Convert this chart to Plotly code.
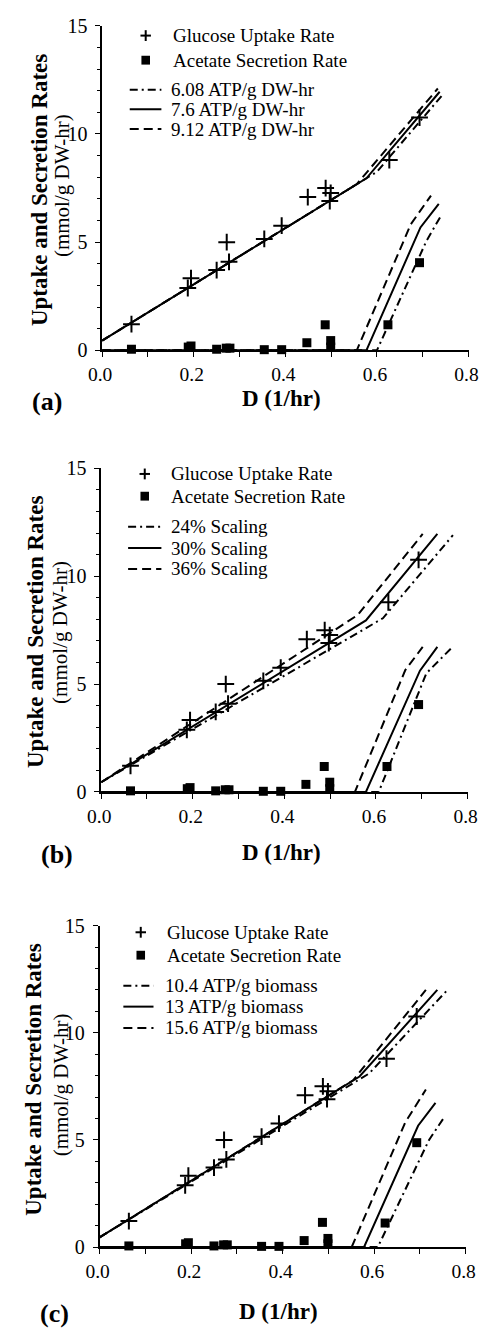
import plotly.graph_objects as go

W, H = 489, 1336
FONT = "Liberation Serif"

# ---------------- experimental data (shared) ----------------
glc_D = [0.064, 0.187, 0.194, 0.250, 0.272, 0.277, 0.354, 0.392, 0.449, 0.488, 0.499, 0.497, 0.627, 0.693]
glc_rate = [1.21, 2.88, 3.33, 3.71, 5.00, 4.09, 5.15, 5.76, 7.08, 7.50, 7.27, 6.90, 8.79, 10.76]

ace_D = [0.064, 0.188, 0.194, 0.250, 0.271, 0.279, 0.354, 0.392, 0.447, 0.487, 0.499, 0.499, 0.624, 0.693]
ace_rate_ab = [0.05, 0.15, 0.20, 0.05, 0.10, 0.10, 0.03, 0.03, 0.35, 1.18, 0.45, 0.15, 1.18, 4.05]
ace_rate_c = [0.05, 0.15, 0.20, 0.05, 0.10, 0.10, 0.03, 0.03, 0.30, 1.15, 0.40, 0.15, 1.12, 4.87]

# ---------------- model curves ----------------
# panel (a): maintenance ATP
a_labels = ["6.08 ATP/g DW-hr", "7.6 ATP/g DW-hr", "9.12 ATP/g DW-hr"]
a_glc_D = [[0, 0.600, 0.745], [0, 0.577, 0.737], [0, 0.556, 0.733]]
a_glc_y = [[0.45, 8.25, 11.85], [0.45, 7.95, 11.95], [0.45, 7.68, 12.10]]
a_ace_D = [[0, 0.600, 0.708, 0.742], [0, 0.577, 0.695, 0.735], [0, 0.556, 0.674, 0.718]]
a_ace_y = [[0, 0, 5.05, 6.30], [0, 0, 5.68, 6.77], [0, 0, 5.83, 7.15]]

# panel (b): scaling
b_labels = ["24% Scaling", "30% Scaling", "36% Scaling"]
b_glc_D = [[0, 0.615, 0.768], [0, 0.578, 0.734], [0, 0.560, 0.702]]
b_glc_y = [[0.45, 8.05, 11.90], [0.45, 7.95, 11.96], [0.45, 8.20, 11.96]]
b_ace_D = [[0, 0.606, 0.710, 0.767], [0, 0.578, 0.696, 0.734], [0, 0.554, 0.664, 0.702]]
b_ace_y = [[0, 0, 5.50, 6.72], [0, 0, 5.62, 6.72], [0, 0, 5.65, 6.72]]

# panel (c): growth-associated ATP
c_labels = ["10.4 ATP/g biomass", "13 ATP/g biomass", "15.6 ATP/g biomass"]
c_glc_D = [[0, 0.589, 0.758], [0, 0.568, 0.738], [0, 0.554, 0.713]]
c_glc_y = [[0.45, 8.10, 11.95], [0.45, 7.96, 12.00], [0.45, 7.78, 12.00]]
c_ace_D = [[0, 0.608, 0.720, 0.755], [0, 0.578, 0.696, 0.734], [0, 0.551, 0.668, 0.713]]
c_ace_y = [[0, 0, 5.00, 6.12], [0, 0, 5.66, 6.73], [0, 0, 5.82, 7.35]]

x_tickvals = [0, 0.1, 0.2, 0.3, 0.4, 0.5, 0.6, 0.7, 0.8]
x_ticktext = ["0.0", "", "0.2", "", "0.4", "", "0.6", "", "0.8"]
y_tickvals = [0, 5, 10, 15]
y_ticktext = ["0", "5", "10", "15"]

DASHES = ["8px,4px,2px,4px", "solid", "9px,5px"]

# ---------------- panel geometry (pixels) ----------------
panels = [
    dict(tag="(a)", labels=a_labels, gD=a_glc_D, gy=a_glc_y, aD=a_ace_D, ay=a_ace_y, ace=ace_rate_ab,
         x0=92.7, x1=478, ytop=15, ybot=345,
         ytitle=(26.7, 181.7), ysub=(50.5, 178), xtitle=(281.7, 393.5), tagpos=(34.2, 397.5),
         leg_marker_x=138.5, leg_text_x=165, leg_rows_m=[25, 50],
         leg_line=(121.7, 155), leg_ltext_x=163.3, leg_rows_l=[80, 100, 120]),
    dict(tag="(b)", labels=b_labels, gD=b_glc_D, gy=b_glc_y, aD=b_ace_D, ay=b_ace_y, ace=ace_rate_ab,
         x0=91.7, x1=477, ytop=465, ybot=794,
         ytitle=(22.5, 631), ysub=(49, 631.7), xtitle=(280.8, 856), tagpos=(45, 857.5),
         leg_marker_x=137.5, leg_text_x=163.3, leg_rows_m=[470.7, 493.3],
         leg_line=(120, 155), leg_ltext_x=163.3, leg_rows_l=[524.3, 546, 567.3]),
    dict(tag="(c)", labels=c_labels, gD=c_glc_D, gy=c_glc_y, aD=c_ace_D, ay=c_ace_y, ace=ace_rate_c,
         x0=90, x1=475, ytop=930, ybot=1256.7,
         ytitle=(21, 1086.7), ysub=(49, 1091.7), xtitle=(278.3, 1322), tagpos=(42.5, 1324),
         leg_marker_x=133.3, leg_text_x=159.3, leg_rows_m=[936.7, 960],
         leg_line=(115, 146.7), leg_ltext_x=156.7, leg_rows_l=[991, 1012.3, 1034]),
]


def px(x):
    return x / W


def py(y):
    return 1 - y / H


fig = go.Figure()
shapes = []
annotations = []

for i, p in enumerate(panels):
    n = "" if i == 0 else str(i + 1)
    xa, ya = "x" + n, "y" + n
    # model lines
    for k in range(3):
        fig.add_trace(go.Scatter(x=p["gD"][k], y=p["gy"][k], mode="lines", xaxis=xa, yaxis=ya,
                                 line=dict(color="black", width=2, dash=DASHES[k]),
                                 showlegend=False, cliponaxis=False))
        fig.add_trace(go.Scatter(x=p["aD"][k], y=p["ay"][k], mode="lines", xaxis=xa, yaxis=ya,
                                 line=dict(color="black", width=2, dash=DASHES[k]),
                                 showlegend=False, cliponaxis=False))
    # data
    fig.add_trace(go.Scatter(x=glc_D, y=glc_rate, mode="markers", xaxis=xa, yaxis=ya,
                             marker=dict(symbol="cross-thin-open", size=12, color="black",
                                         line=dict(color="black", width=2)),
                             showlegend=False, cliponaxis=False))
    fig.add_trace(go.Scatter(x=ace_D, y=p["ace"], mode="markers", xaxis=xa, yaxis=ya,
                             marker=dict(symbol="square", size=9, color="black"),
                             showlegend=False, cliponaxis=False))

    common_x = dict(domain=[p["x0"] / W, p["x1"] / W], range=[0, 0.8], anchor=ya,
                    showline=True, linecolor="black", linewidth=1.5, showgrid=False, zeroline=False,
                    tickmode="array", tickvals=x_tickvals, ticktext=x_ticktext,
                    ticks="outside", ticklen=5, tickwidth=1.3, tickcolor="black",
                    tickfont=dict(family=FONT, size=19.5, color="black"), ticklabelstandoff=1,
                    ticklabelshift=-2)
    common_y = dict(domain=[py(p["ybot"]), py(p["ytop"])], range=[0, 15], anchor=xa,
                    showline=True, linecolor="black", linewidth=1.5, showgrid=False, zeroline=False,
                    tickmode="array", tickvals=y_tickvals, ticktext=y_ticktext,
                    ticks="outside", ticklen=5, tickwidth=1.3, tickcolor="black",
                    minor=dict(dtick=1, ticks="outside", ticklen=3, tickwidth=1, tickcolor="black", showgrid=False),
                    tickfont=dict(family=FONT, size=20, color="black"), ticklabelstandoff=4)
    fig.update_layout(**{"xaxis" + n: common_x, "yaxis" + n: common_y})

    # axis titles and panel tag
    annotations.append(dict(x=px(p["ytitle"][0]), y=py(p["ytitle"][1]), xref="paper", yref="paper",
                            text="<b>Uptake and Secretion Rates</b>", textangle=-90, showarrow=False,
                            xanchor="center", yanchor="middle",
                            font=dict(family=FONT, size=23, color="black")))
    annotations.append(dict(x=px(p["ysub"][0]), y=py(p["ysub"][1]), xref="paper", yref="paper",
                            text="(mmol/g DW-hr)", textangle=-90, showarrow=False,
                            xanchor="center", yanchor="middle",
                            font=dict(family=FONT, size=21, color="black")))
    annotations.append(dict(x=px(p["xtitle"][0]), y=py(p["xtitle"][1]), xref="paper", yref="paper",
                            text="<b>D (1/hr)</b>", showarrow=False, xanchor="center", yanchor="middle",
                            font=dict(family=FONT, size=23, color="black")))
    annotations.append(dict(x=px(p["tagpos"][0]), y=py(p["tagpos"][1]), xref="paper", yref="paper",
                            text="<b>" + p["tag"] + "</b>", showarrow=False, xanchor="center", yanchor="middle",
                            font=dict(family=FONT, size=26, color="black")))

    # legend (drawn manually)
    mx = p["leg_marker_x"]
    r0, r1 = p["leg_rows_m"]
    shapes.append(dict(type="line", xref="paper", yref="paper", x0=px(mx - 5.5), x1=px(mx + 5.5),
                       y0=py(r0), y1=py(r0), line=dict(color="black", width=2)))
    shapes.append(dict(type="line", xref="paper", yref="paper", x0=px(mx), x1=px(mx),
                       y0=py(r0 - 5.5), y1=py(r0 + 5.5), line=dict(color="black", width=2)))
    shapes.append(dict(type="rect", xref="paper", yref="paper", x0=px(mx - 4.5), x1=px(mx + 4.5),
                       y0=py(r1 - 4.5), y1=py(r1 + 4.5), fillcolor="black", line=dict(width=0)))
    annotations.append(dict(x=px(p["leg_text_x"]), y=py(r0), xref="paper", yref="paper",
                            text="Glucose Uptake Rate", showarrow=False, xanchor="left", yanchor="middle",
                            font=dict(family=FONT, size=19, color="black")))
    annotations.append(dict(x=px(p["leg_text_x"]), y=py(r1), xref="paper", yref="paper",
                            text="Acetate Secretion Rate", showarrow=False, xanchor="left", yanchor="middle",
                            font=dict(family=FONT, size=19, color="black")))
    lx0, lx1 = p["leg_line"]
    for k in range(3):
        ry = p["leg_rows_l"][k]
        shapes.append(dict(type="line", xref="paper", yref="paper", x0=px(lx0), x1=px(lx1),
                           y0=py(ry), y1=py(ry), line=dict(color="black", width=2, dash=DASHES[k])))
        annotations.append(dict(x=px(p["leg_ltext_x"]), y=py(ry), xref="paper", yref="paper",
                                text=p["labels"][k], showarrow=False, xanchor="left", yanchor="middle",
                                font=dict(family=FONT, size=19, color="black")))

fig.update_layout(width=W, height=H, margin=dict(l=0, r=0, t=0, b=0),
                  paper_bgcolor="white", plot_bgcolor="white", showlegend=False,
                  shapes=shapes, annotations=annotations, font=dict(family=FONT, color="black"))

fig.write_html("out.html", config={"displayModeBar": False},
               post_script="document.body.style.margin='0';document.body.style.overflow='hidden';")
